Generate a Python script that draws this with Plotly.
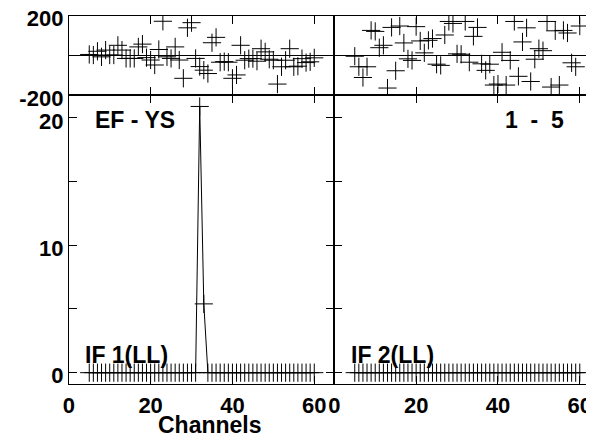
import plotly.graph_objects as go

# the page puts the figure 8 px in from the top-left corner of the window
PAGE_OFF = 8
W, H = 594 - PAGE_OFF, 437 - PAGE_OFF

# channel numbers plotted in both IFs
channels = [5, 6, 7, 8, 9, 10, 11, 12, 13, 14,
            15, 16, 17, 18, 19, 20, 21, 22, 23, 24,
            25, 26, 27, 28, 29, 30, 31, 32, 33, 34,
            35, 36, 37, 38, 39, 40, 41, 42, 43, 44,
            45, 46, 47, 48, 49, 50, 51, 52, 53, 54,
            55, 56, 57, 58, 59, 60]

# phase (degrees) per channel
phase_if1 = [4, 1, 20, -8, 26, 1, 1, 50, 26, -16,
             -16, -16, 42, 56, -12, -24, -49, 29, 171, -8,
             -16, 42, -24, -116, 138, 164, -16, -57, -75, -92,
             63, 90, -35, -32, -35, -116, -99, 50, -25, -17,
             -17, -30, 33, 17, -20, -25, -145, -58, -25, 33,
             -58, -55, -17, -37, -33, -13]
phase_if2 = [-5, -58, -112, -58, 125, 120, 38, 50, -165, 140,
             -78, 147, 62, -18, -26, 144, 72, 12, 75, 84,
             -45, -51, 102, 170, 160, 7, 5, 170, -35, 95,
             140, -43, -76, -45, -150, -145, 15, -150, -26, 170,
             -106, 67, 138, -132, -20, 33, 23, 170, -160, 123,
             -150, 125, 112, -38, -58, 147]

# amplitude per channel
amp_if1 = [0, 0, 0, 0, 0, 0, 0, 0, 0, 0,
           0, 0, 0, 0, 0, 0, 0, 0, 0, 0,
           0, 0, 0, 0, 0, 0, 0, 20.9, 5.4, 0,
           0, 0, 0, 0, 0, 0, 0, 0, 0, 0,
           0, 0, 0, 0, 0, 0, 0, 0, 0, 0,
           0, 0, 0, 0, 0, 0]
amp_if2 = [0, 0, 0, 0, 0, 0, 0, 0, 0, 0,
           0, 0, 0, 0, 0, 0, 0, 0, 0, 0,
           0, 0, 0, 0, 0, 0, 0, 0, 0, 0,
           0, 0, 0, 0, 0, 0, 0, 0, 0, 0,
           0, 0, 0, 0, 0, 0, 0, 0, 0, 0,
           0, 0, 0, 0, 0, 0]

x_ticks = [0, 20, 40, 60]
amp_ticks = [0, 5, 10, 15, 20]
amp_ticktext = ['0', '', '10', '', '20']
phase_ticks = [-200, 200]
phase_ticktext = ['-200', '200']

TICKFONT = dict(family='Liberation Sans, Arial, sans-serif', size=22, color='black', weight='bold')
LABELFONT = dict(TICKFONT, size=23)


# window pixel -> paper coordinate
def px_x(p):
    return (p - PAGE_OFF) / W


def px_y(p):
    return 1 - (p - PAGE_OFF) / H


marker = dict(symbol='cross-thin', size=13, line=dict(color='black', width=1), color='black')

fig = go.Figure()
# amplitude panels
fig.add_trace(go.Scatter(x=channels, y=amp_if1, mode='lines+markers', marker=marker,
                         line=dict(color='black', width=1), xaxis='x', yaxis='y'))
fig.add_trace(go.Scatter(x=channels, y=amp_if2, mode='lines+markers', marker=marker,
                         line=dict(color='black', width=1), xaxis='x2', yaxis='y2'))
# phase panels
fig.add_trace(go.Scatter(x=channels, y=phase_if1, mode='markers', marker=marker,
                         xaxis='x3', yaxis='y3'))
fig.add_trace(go.Scatter(x=channels, y=phase_if2, mode='markers', marker=marker,
                         xaxis='x4', yaxis='y4'))

ax = dict(showline=True, linecolor='black', linewidth=1, mirror='ticks',
          ticks='inside', ticklen=8, tickcolor='black', tickwidth=1,
          showgrid=False, zeroline=False, tickfont=TICKFONT, automargin=False,
          ticklabeloverflow='allow')

# pixel layout of the frames
left_x = [px_x(68.8), px_x(334.3)]
right_x = [px_x(334.3), px_x(593.5)]
top_y = [px_y(95), px_y(15.5)]
bot_y = [px_y(383.5), px_y(95)]

fig.update_layout(
    template='none',
    width=W, height=H,
    margin=dict(l=0, r=0, t=0, b=0),
    paper_bgcolor='white', plot_bgcolor='white',
    showlegend=False,
    xaxis=dict(ax, domain=left_x, range=[0, 64.9], tickvals=x_ticks, anchor='y',
               ticklabelstandoff=2),
    yaxis=dict(ax, domain=bot_y, range=[-0.85, 21.8], tickvals=amp_ticks,
               ticktext=amp_ticktext, anchor='x', ticklabelstandoff=0,
               ticklabelshift=3),
    xaxis2=dict(ax, domain=right_x, range=[0, 63.35], tickvals=x_ticks, anchor='y2',
                ticklabelstandoff=2),
    yaxis2=dict(ax, domain=bot_y, range=[-0.85, 21.8], tickvals=amp_ticks,
                showticklabels=False, anchor='x2'),
    xaxis3=dict(ax, domain=left_x, range=[0, 64.9], tickvals=x_ticks,
                showticklabels=False, anchor='y3'),
    yaxis3=dict(ax, domain=top_y, range=[-200, 200], tickvals=phase_ticks,
                ticktext=phase_ticktext, anchor='x3', zeroline=True,
                zerolinecolor='black', zerolinewidth=1, ticklabelstandoff=0,
                ticklabelshift=3),
    xaxis4=dict(ax, domain=right_x, range=[0, 63.35], tickvals=x_ticks,
                showticklabels=False, anchor='y4'),
    yaxis4=dict(ax, domain=top_y, range=[-200, 200], tickvals=phase_ticks,
                showticklabels=False, anchor='x4', zeroline=True,
                zerolinecolor='black', zerolinewidth=1),
)

NB = '\u00a0'
labels = [
    ('EF - YS', 93, 120, 'left'),
    ('1' + NB * 2 + '-' + NB * 2 + '5', 566, 120, 'right'),
    ('IF 1(LL)', 83, 355, 'left'),
    ('IF 2(LL)', 349, 355, 'left'),
    ('Channels', 209.5, 425, 'center'),
]
for text, x, y, anchor in labels:
    fig.add_annotation(text=text, x=px_x(x), y=px_y(y), xref='paper', yref='paper',
                       xanchor=anchor, yanchor='middle', showarrow=False, font=LABELFONT)

fig.write_html("out.html")
